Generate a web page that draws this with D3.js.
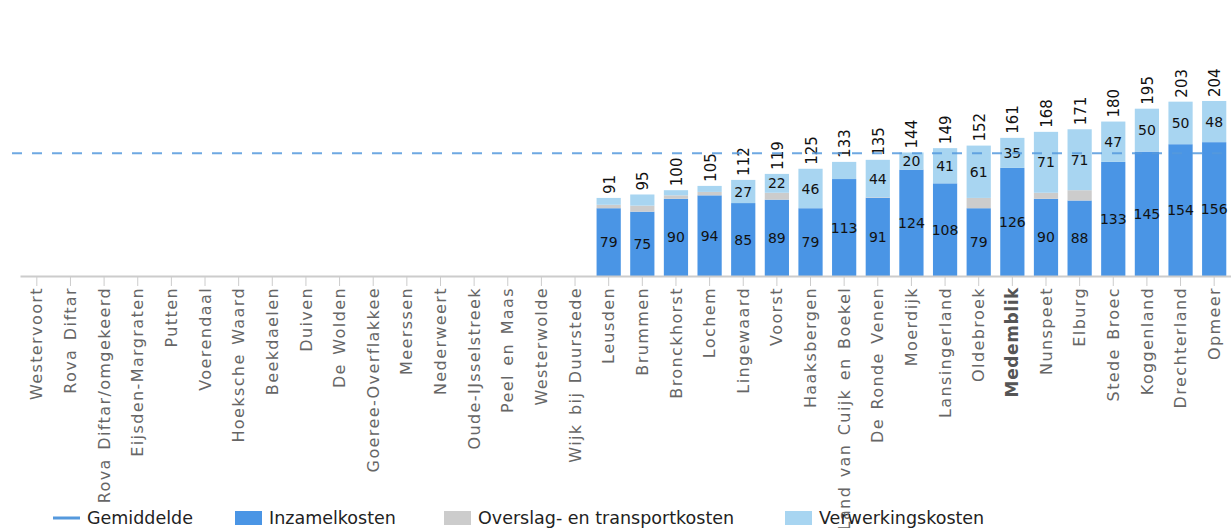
<!DOCTYPE html>
<html>
<head>
<meta charset="utf-8">
<script src="https://cdn.jsdelivr.net/npm/d3@7"></script>
<style>
  body { margin: 0; background: #fff; }
  svg { font-family: "DejaVu Sans", Verdana, sans-serif; }
</style>
</head>
<body>
<svg id="chart" width="1231" height="528"></svg>
<script>
// gemeenten (x-as)
var categories = ["Westervoort", "Rova Diftar", "Rova Diftar/omgekeerd", "Eijsden-Margraten", "Putten",
  "Voerendaal", "Hoeksche Waard", "Beekdaelen", "Duiven", "De Wolden", "Goeree-Overflakkee", "Meerssen",
  "Nederweert", "Oude-IJsselstreek", "Peel en Maas", "Westerwolde", "Wijk bij Duurstede", "Leusden",
  "Brummen", "Bronckhorst", "Lochem", "Lingewaard", "Voorst", "Haaksbergen", "Land van Cuijk en Boekel",
  "De Ronde Venen", "Moerdijk", "Lansingerland", "Oldebroek", "Medemblik", "Nunspeet", "Elburg",
  "Stede Broec", "Koggenland", "Drechterland", "Opmeer"]

// kosten per categorie (null = geen gegevens)
var inzamel = [null, null, null, null, null, null, null, null, null, null, null, null, null, null, null, null, null,
  79, 75, 90, 94, 85, 89, 79, 113, 91.2, 124, 108, 79, 126, 90, 88, 133, 145, 153.6, 156]
var overslag = [null, null, null, null, null, null, null, null, null, null, null, null, null, null, null, null, null,
  4, 7, 4, 4, 0, 8, 0, 0, 0.6, 0, 0, 12, 0, 7, 12, 0, 0, 0, 0]
var verwerking = [null, null, null, null, null, null, null, null, null, null, null, null, null, null, null, null, null,
  8, 13, 6, 7, 27, 22, 46, 20, 43.6, 20, 41, 61, 35, 71, 71, 47, 50, 49.6, 48]

var gemiddelde = 143
var highlight = "Medemblik"
// labels die in het origineel niet getoond worden
var hiddenLabels = ["Leusden", "Brummen", "Bronckhorst", "Lochem", "Land van Cuijk en Boekel"]

var seriesNames = ["Inzamelkosten", "Overslag- en transportkosten", "Verwerkingskosten"]
var colors = ["#4a95e5", "#cccccc", "#a8d5f1"]

var svg = d3.select("#chart")
var baseY = 276

var x = d3.scaleBand()
  .domain(categories)
  .range([20, 1231])
  .paddingInner(0.28)
  .paddingOuter(0.14)

var y = d3.scaleLinear()
  .domain([0, 250])
  .range([baseY, baseY - 250 * 0.858])

// build stacked table
var rows = categories.map(function(c, i) {
  return { name: c, inz: inzamel[i] || 0, ovs: overslag[i] || 0, ver: verwerking[i] || 0, has: inzamel[i] != null }
})
var stack = d3.stack().keys(["inz", "ovs", "ver"])
var layers = stack(rows)

var g = svg.append("g")

g.selectAll("g.layer")
  .data(layers)
  .enter()
  .append("g")
  .attr("fill", function(d, i) { return colors[i] })
  .selectAll("rect")
  .data(function(d) { return d })
  .enter()
  .filter(function(d) { return d[1] - d[0] > 0 })
  .append("rect")
  .attr("x", function(d) { return x(d.data.name) })
  .attr("width", x.bandwidth())
  .attr("y", function(d) { return y(d[1]) })
  .attr("height", function(d) { return y(d[0]) - y(d[1]) })

// segment labels (inzamel + verwerking)
;[0, 2].forEach(function(li) {
  g.selectAll("text.seg" + li)
    .data(layers[li].filter(function(d) { return d.data.has && d[1] - d[0] > 0 }))
    .enter()
    .filter(function(d) { return li == 0 || hiddenLabels.indexOf(d.data.name) < 0 })
    .append("text")
    .attr("x", function(d) { return x(d.data.name) + x.bandwidth() / 2 })
    .attr("y", function(d) { return (y(d[0]) + y(d[1])) / 2 })
    .attr("dy", "0.36em")
    .attr("text-anchor", "middle")
    .style("font-size", "14px")
    .attr("fill", "#111")
    .text(function(d) { return Math.round(d[1] - d[0]) })
})

// totals, rotated
var last = layers[2]
g.selectAll("text.total")
  .data(last.filter(function(d) { return d.data.has }))
  .enter()
  .append("text")
  .attr("transform", function(d) {
    return "translate(" + (x(d.data.name) + x.bandwidth() / 2 + 6) + "," + (y(d[1]) - 4) + ") rotate(-90)"
  })
  .attr("text-anchor", "start")
  .style("font-size", "15px")
  .attr("fill", "#111")
  .text(function(d) { return Math.round(d[1]) })

// x axis
var xAxis = svg.append("g")
  .attr("transform", "translate(0," + baseY + ")")
  .call(d3.axisBottom(x).tickSize(10).tickSizeOuter(0))
xAxis.select(".domain").attr("stroke", "#ccc").attr("stroke-width", 2)
xAxis.selectAll(".tick line").attr("stroke", "#ccc")
xAxis.selectAll(".tick text")
  .attr("transform", "rotate(-90)")
  .attr("text-anchor", "end")
  .attr("x", -11)
  .attr("y", 0)
  .attr("dy", "0.35em")
  .style("font-size", "16px")
  .style("letter-spacing", "1.4px")
  .style("word-spacing", "2px")
  .style("font-family", "DejaVu Sans, sans-serif")
  .attr("fill", "#666")
  .filter(function(d) { return d == highlight })
  .style("font-weight", "bold")
  .style("font-size", "17px")
  .style("letter-spacing", "0.6px")
  .attr("fill", "#555")

// gemiddelde lijn
svg.append("line")
  .attr("x1", 12).attr("x2", 1231)
  .attr("y1", y(gemiddelde)).attr("y2", y(gemiddelde))
  .attr("stroke", "#5599dd")
  .attr("stroke-width", 2)
  .attr("stroke-dasharray", "10,10")
  .attr("stroke-opacity", 0.85)

// legend
var legendItems = [
  { name: "Gemiddelde", type: "line", color: "#5599dd", x: 53 },
  { name: seriesNames[0], type: "rect", color: colors[0], x: 235 },
  { name: seriesNames[1], type: "rect", color: colors[1], x: 444 },
  { name: seriesNames[2], type: "rect", color: colors[2], x: 785 }
]
var legend = svg.append("g")
legendItems.forEach(function(it) {
  if (it.type == "line") {
    legend.append("line")
      .attr("x1", it.x).attr("x2", it.x + 27)
      .attr("y1", 518).attr("y2", 518)
      .attr("stroke", it.color).attr("stroke-width", 3)
  } else {
    legend.append("rect")
      .attr("x", it.x).attr("y", 511)
      .attr("width", 27).attr("height", 14)
      .attr("fill", it.color)
  }
  legend.append("text")
    .attr("x", it.x + 34)
    .attr("y", 518)
    .attr("dy", "0.36em")
    .style("font-size", "17.5px")
    .attr("fill", "#222")
    .text(it.name)
})
</script>
</body>
</html>
